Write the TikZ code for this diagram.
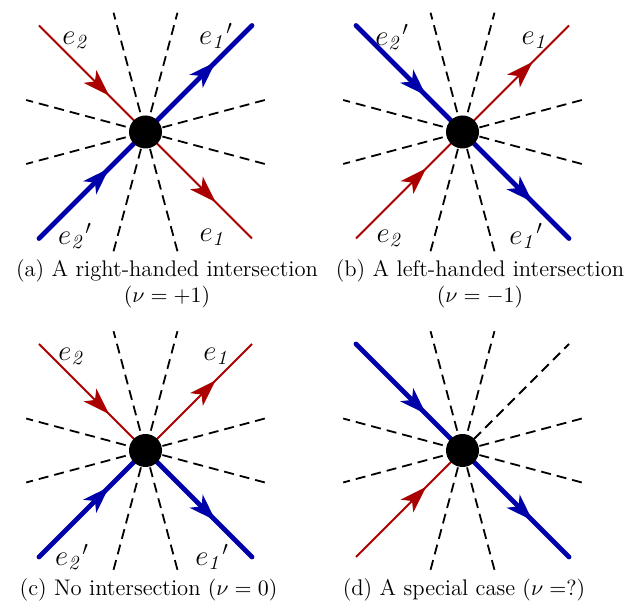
\documentclass[tikz,border=0pt]{standalone}
\usetikzlibrary{arrows.meta,decorations.markings,calc}
\definecolor{ered}{RGB}{170,0,0}
\definecolor{eblue}{RGB}{0,0,170}
\pgfdeclarelayer{bg}
\pgfsetlayers{bg,main}
\tikzset{
  tipmark/.style={postaction={decorate},
    decoration={markings, mark=at position 0.66 with {\arrow{Stealth[length=13.5pt,width=9pt,inset=3.5pt]}}}},
  redge/.style={color=ered, line width=1pt, tipmark},
  bedge/.style={color=eblue, line width=2.4pt, line cap=round, tipmark},
  ray/.style={black, line width=0.9pt, dash pattern=on 5pt off 3pt},
  hub/.style={circle, fill=black, minimum size=16.5pt, inner sep=0pt},
  lab/.style={font=\fontsize{14.4}{17}\selectfont, inner sep=0pt},
  captext/.style={font=\fontsize{11.3}{13.1}\selectfont, align=center, anchor=base, inner sep=0pt}
}
\begin{document}
\begin{tikzpicture}[x=0.5pt,y=-0.5pt]
\useasboundingbox (0,0) rectangle (638,603);

% hubs
\node[hub] (a) at (145.5,132) {};
\node[hub] (b) at (462.5,132) {};
\node[hub] (c) at (145.5,450.5) {};
\node[hub] (d) at (462.5,450.5) {};

% end points
\foreach \p/\x/\y in {a/145.5/132, b/462.5/132, c/145.5/450.5, d/462.5/450.5}{
  \coordinate (\p UL) at (\x-106.5,\y-106.5);
  \coordinate (\p UR) at (\x+106.5,\y-106.5);
  \coordinate (\p LL) at (\x-106.5,\y+106.5);
  \coordinate (\p LR) at (\x+106.5,\y+106.5);
}

\begin{pgfonlayer}{bg}
% dashed rays
\foreach \p in {a,b,c,d}{
  \foreach \ang in {15,-15,75,105}{
    \draw[ray] ($(\p.center)+(\ang:123.5)$) -- ($(\p.center)+(\ang+180:123.5)$);
  }
}
\draw[ray] (d.center) -- (dUR);

% (a)
\draw[redge] (aUL) -- (a.center);
\draw[redge] (a.center) -- (aLR);
\draw[bedge] (aLL) -- (a.center);
\draw[bedge] (a.center) -- (aUR);
% (b)
\draw[bedge] (bUL) -- (b.center);
\draw[bedge] (b.center) -- (bLR);
\draw[redge] (bLL) -- (b.center);
\draw[redge] (b.center) -- (bUR);
% (c)
\draw[redge] (cUL) -- (c.center);
\draw[redge] (c.center) -- (cUR);
\draw[bedge] (cLL) -- (c.center);
\draw[bedge] (c.center) -- (cLR);
% (d)
\draw[bedge] (dUL) -- (d.center);
\draw[bedge] (d.center) -- (dLR);
\draw[redge] (dLL) -- (d.center);
\end{pgfonlayer}

% labels
\node[lab] (la1) at (76,40) {$e_{\mathit{2}}$};
\node[lab] (la2) at (216,36) {${e_{\mathit{1}}}'$};
\node[lab] (la3) at (75,236) {${e_{\mathit{2}}}'$};
\node[lab] (la4) at (213,237) {$e_{\mathit{1}}$};

\node[lab] (lb1) at (392,37) {${e_{\mathit{2}}}'$};
\node[lab] (lb2) at (535,40) {$e_{\mathit{1}}$};
\node[lab] (lb3) at (390,238) {$e_{\mathit{2}}$};
\node[lab] (lb4) at (526,236) {${e_{\mathit{1}}}'$};

\node[lab] (lc1) at (72,356) {$e_{\mathit{2}}$};
\node[lab] (lc2) at (217,356) {$e_{\mathit{1}}$};
\node[lab] (lc3) at (72,557) {${e_{\mathit{2}}}'$};
\node[lab] (lc4) at (212,557) {${e_{\mathit{1}}}'$};

% captions (base anchor = baseline of the last line)
\node[captext] (capa) at (167,303) {(a) A right-handed intersection\\$(\nu=+1)$};
\node[captext] (capb) at (480,303) {(b) A left-handed intersection\\$(\nu=-1)$};
\node[captext] (capc) at (148.5,596) {(c) No intersection $(\nu=0)$};
\node[captext] (capd) at (464,596) {(d) A special case $(\nu=?)$};
\end{tikzpicture}
\end{document}
